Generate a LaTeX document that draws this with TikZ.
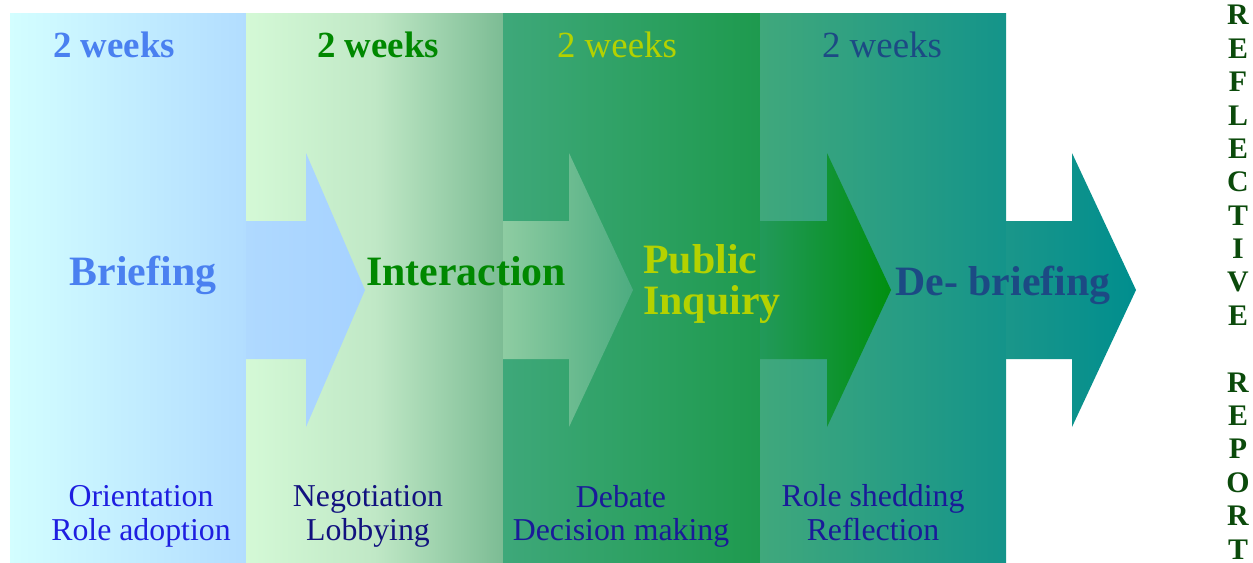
\documentclass[tikz,border=0pt]{standalone}
\usepackage{fontspec}
\setmainfont{Liberation Serif}
\usepackage{xcolor}

% panel and arrow colours
\definecolor{paneAl}{HTML}{D3FEFF}
\definecolor{paneAr}{HTML}{B2DDFF}
\definecolor{paneBl}{HTML}{D4F9D6}
\definecolor{paneBm}{HTML}{C0E8C6}
\definecolor{paneBr}{HTML}{7CBC94}
\definecolor{paneCl}{HTML}{3EA87A}
\definecolor{paneCr}{HTML}{1E9A4E}
\definecolor{paneDl}{HTML}{40A87C}
\definecolor{paneDr}{HTML}{14948A}
\definecolor{arrAl}{HTML}{AFD9FF}
\definecolor{arrAr}{HTML}{A6D2FF}
\definecolor{arrBl}{HTML}{8ECCA2}
\definecolor{arrBr}{HTML}{4CAC80}
\definecolor{arrCl}{HTML}{22995A}
\definecolor{arrCr}{HTML}{008F10}
\definecolor{arrDl}{HTML}{1A968A}
\definecolor{arrDr}{HTML}{008E8E}
% text colours
\definecolor{briefblue}{HTML}{4A80F0}
\definecolor{actgreen}{HTML}{008800}
\definecolor{limegreen}{HTML}{B4D200}
\definecolor{debriefblue}{HTML}{1C4A84}
\definecolor{taskblue}{HTML}{1E1EE0}
\definecolor{tasknavy}{HTML}{12127F}
\definecolor{taskdark}{HTML}{1A1A99}
\definecolor{reportgreen}{HTML}{0B4A0B}

\begin{document}
\begin{tikzpicture}[
    x=0.02cm, y=-0.02cm,
    weeks/.style={anchor=base, inner sep=0pt, font=\fontsize{21}{25}\selectfont},
    title/.style={anchor=base, inner sep=0pt, font=\bfseries\fontsize{23.8}{23.8}\selectfont},
    task/.style={align=center, inner sep=0pt, font=\fontsize{18.1}{17.6}\selectfont},
  ]
    \useasboundingbox (0,0) rectangle (1253,562);

    % Panels
    \shade[left color=paneAl, right color=paneAr] (10,13) rectangle (246,562);
    \shade[left color=paneBl, right color=paneBr, middle color=paneBm] (246,13) rectangle (503,562);
    \shade[left color=paneCl, right color=paneCr] (503,13) rectangle (760,562);
    \shade[left color=paneDl, right color=paneDr] (760,13) rectangle (1006,562);

    % Arrows running into the next panel
    \shade[left color=arrAl, right color=arrAr] (246,221) -- (306,221) -- (306,153) -- (365,290) -- (306,427) -- (306,359) -- (246,359) -- cycle;
    \shade[left color=arrBl, right color=arrBr] (503,221) -- (569,221) -- (569,153) -- (633,290) -- (569,427) -- (569,359) -- (503,359) -- cycle;
    \shade[left color=arrCl, right color=arrCr] (760,221) -- (827,221) -- (827,153) -- (891,290) -- (827,427) -- (827,359) -- (760,359) -- cycle;
    \shade[left color=arrDl, right color=arrDr] (1006,221) -- (1072,221) -- (1072,153) -- (1136,290) -- (1072,427) -- (1072,359) -- (1006,359) -- cycle;

    % Durations
    \node[weeks, text=briefblue, font=\bfseries\fontsize{21}{25}\selectfont] (w1) at (114,57) {2 weeks};
    \node[weeks, text=actgreen, font=\bfseries\fontsize{21}{25}\selectfont] (w2) at (378,57) {2 weeks};
    \node[weeks, text=limegreen] (w3) at (617,57) {2 weeks};
    \node[weeks, text=debriefblue] (w4) at (882,57) {2 weeks};

    % Stage names
    \node[title, text=briefblue] (briefing) at (143,285) {Briefing};
    \node[title, text=actgreen] (interaction) at (466,285) {Interaction};
    \node[title, text=limegreen, anchor=west, align=left] (inquiry) at (643,285.6) {\strut Public\\\strut Inquiry};
    \node[title, text=debriefblue] (debriefing) at (1003,295) {De- briefing};

    % Activities
    \node[task, text=taskblue] (t1) at (141,517.3) {\strut Orientation\\\strut Role adoption};
    \node[task, text=tasknavy] (t2) at (368,517.3) {\strut Negotiation\\\strut Lobbying};
    \node[task, text=taskdark] (t3) at (621,517.3) {\strut Debate\\\strut Decision making};
    \node[task, text=taskdark] (t4) at (873,517.3) {\strut Role shedding\\\strut Reflection};

    % Vertical caption
    \node[align=center, inner sep=0pt, text=reportgreen, font=\bfseries\fontsize{17}{19}\selectfont] (report) at (1238,280.3)
      {\strut R\\\strut E\\\strut F\\\strut L\\\strut E\\\strut C\\\strut T\\\strut I\\\strut V\\\strut E\\\strut\\\strut R\\\strut E\\\strut P\\\strut O\\\strut R\\T};

\end{tikzpicture}
\end{document}
